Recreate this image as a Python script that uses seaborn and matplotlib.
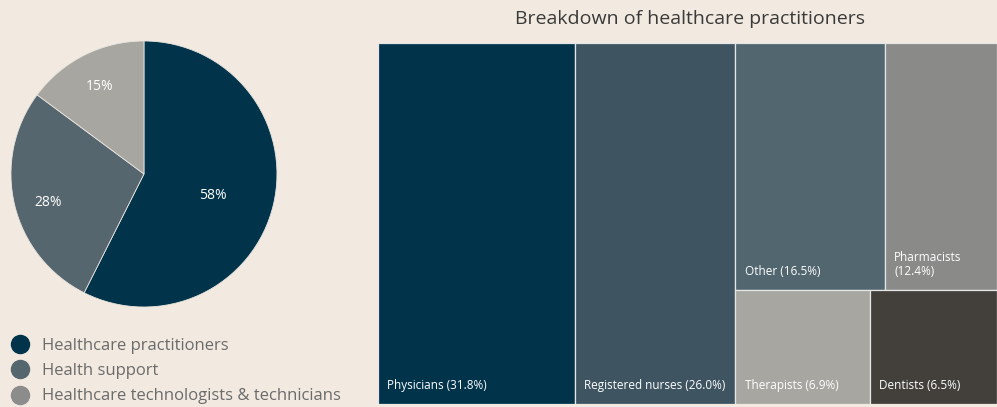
import matplotlib
matplotlib.use("Agg")
import matplotlib.pyplot as plt
from matplotlib.lines import Line2D
import numpy as np
import seaborn as sns

# Daten
pie_labels = ["Healthcare practitioners", "Health support", "Healthcare technologists & technicians"]
pie_values = [58, 28, 15]
pie_colors = ["#01344a", "#56666e", "#a8a6a0"]
legend_colors = ["#01344a", "#56666e", "#8c8c8c"]

tm_labels = ["Physicians", "Registered nurses", "Other", "Pharmacists", "Therapists", "Dentists"]
tm_values = [31.8, 26.0, 16.5, 12.4, 6.9, 6.5]
tm_colors = ["#01344a", "#3e5561", "#52666f", "#8a8a89", "#a8a6a0", "#43403c"]

BG = "#f2eae0"

sns.set_theme(style="white")
plt.rcParams["font.family"] = ["Open Sans", "DejaVu Sans"]


def treemap_layout(values):
    # zwei Spalten fuer die grossen Werte, Rest als 2x2 Block
    total = sum(values)
    rects = []
    x = 0.0
    for v in values[:2]:
        w = v / total
        rects.append((x, 0.0, w, 1.0))
        x += w
    rest = values[2:]
    wrest = 1.0 - x
    top = rest[0] + rest[1]
    h_top = top / sum(rest)
    xx = x
    for v in rest[:2]:
        w = wrest * v / top
        rects.append((xx, 1.0 - h_top, w, h_top))
        xx += w
    bot = rest[2] + rest[3]
    xx = x
    for v in rest[2:]:
        w = wrest * v / bot
        rects.append((xx, 0.0, w, 1.0 - h_top))
        xx += w
    return rects


fig = plt.figure(figsize=(9.97, 4.07), dpi=100)
fig.patch.set_facecolor(BG)

# Kreisdiagramm
ax_pie = fig.add_axes([0.011, 0.2457, 0.2668, 0.6536])
ax_pie.set_facecolor(BG)
wedges, _ = ax_pie.pie(pie_values, colors=pie_colors, startangle=90, counterclock=False,
                       radius=1.0, wedgeprops=dict(linewidth=0.6, edgecolor="#e8e4df"))
label_dist = [0.53, 0.74, 0.74]
label_dy = [-0.04, -0.04, 0.0]
for w, v, d, dy in zip(wedges, pie_values, label_dist, label_dy):
    ang = np.deg2rad((w.theta1 + w.theta2) / 2)
    ax_pie.text(d * np.cos(ang), d * np.sin(ang) + dy, f"{v}%", color="white",
                fontsize=10, ha="center", va="center")
ax_pie.set_xlim(-1, 1)
ax_pie.set_ylim(-1, 1)
ax_pie.set_aspect("equal")
ax_pie.axis("off")

# Legende
handles = [Line2D([0], [0], marker="o", linestyle="", markersize=13,
                  markerfacecolor=c, markeredgecolor=c) for c in legend_colors]
leg = fig.legend(handles, pie_labels, loc="upper left", bbox_to_anchor=(0.003, 1 - 331 / 407),
                 frameon=False, fontsize=12, labelspacing=0.56, handletextpad=0.75,
                 borderaxespad=0.0, handlelength=1.2)
for t in leg.get_texts():
    t.set_color("#6b6b6b")

# Treemap
ax_tm = fig.add_axes([378 / 997, 1 - 404 / 407, 619 / 997, 361 / 407])
ax_tm.set_facecolor(BG)
rects = treemap_layout(tm_values)
for (x, y, w, h), lab, val, col in zip(rects, tm_labels, tm_values, tm_colors):
    ax_tm.bar(x, h, width=w, bottom=y, align="edge", color=col,
              edgecolor="#e4e6e6", linewidth=0.9)
    txt = f"{lab} ({val:.1f}%)"
    if lab == "Pharmacists":
        txt = f"{lab}\n({val:.1f}%)"
    ax_tm.text(x + 0.015, y + 0.033, txt, color="white", fontsize=8.5,
               ha="left", va="bottom", linespacing=1.1)
ax_tm.set_xlim(0, 1)
ax_tm.set_ylim(0, 1)
ax_tm.axis("off")

fig.text(690 / 997, 1 - 19 / 407, "Breakdown of healthcare practitioners",
         ha="center", va="center", fontsize=14, color="#3a3a3a")

fig.savefig("out.png", dpi=100, facecolor=BG)
